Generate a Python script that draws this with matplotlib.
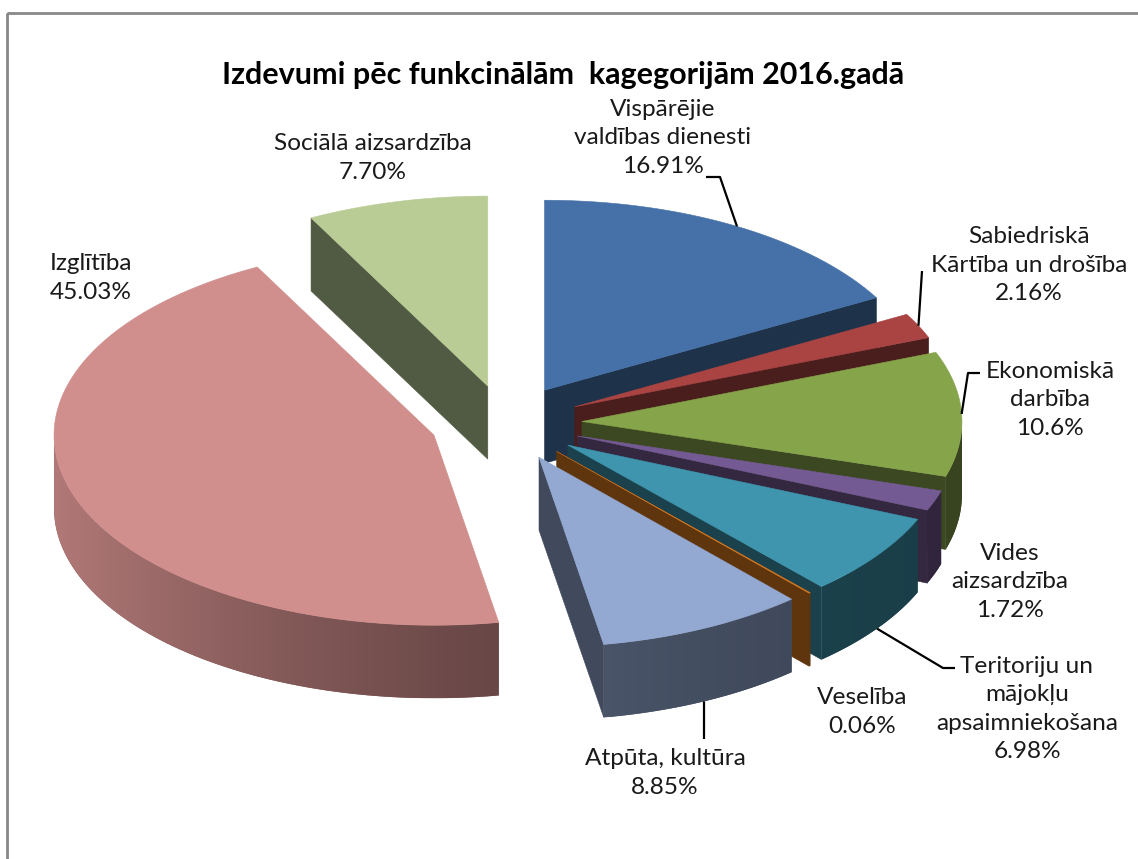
import numpy as np
import matplotlib
import matplotlib.pyplot as plt
from matplotlib.patches import Polygon, Rectangle
from matplotlib.colors import to_rgb

matplotlib.use('Agg')

title = "Izdevumi pēc funkcinālām  kagegorijām 2016.gadā"
categories = ["Vispārējie\nvaldības dienesti", "Sabiedriskā\nKārtība un drošība",
              "Ekonomiskā\ndarbība", "Vides\naizsardzība",
              "Teritoriju un\nmājokļu\napsaimniekošana", "Veselība",
              "Atpūta, kultūra", "Izglītība", "Sociālā aizsardzība"]
shares = [16.91, 2.16, 10.6, 1.72, 6.98, 0.06, 8.85, 45.03, 7.70]
pct_labels = ["16.91%", "2.16%", "10.6%", "1.72%", "6.98%", "0.06%",
              "8.85%", "45.03%", "7.70%"]
colors = ["#4571a8", "#a94442", "#86a44a", "#745a92", "#3e95ad",
          "#d9781e", "#93a9d2", "#d08e8c", "#b9cc95"]

# layout (pixels, y down)
W, H = 1138, 859
CX, CY = 506, 423
RX, RY = 380, 190
EXPLODE = 0.2
DEPTH = 73
label_pos = [(663, 138), (1029, 265), (1050, 400), (1010, 582), (1027, 709),
             (862, 712), (665, 773), (91, 278), (373, 158)]
# leader: (start, elbow, anchor on top rim or bottom rim)
leaders = {0: ((706, 177), (720, 177), 'top'),
           1: ((922, 271), (922, 271), 'top'),
           2: ((980, 373), (968, 373), 'top'),
           4: ((955, 668), (943, 668), 'bottom'),
           6: ((704, 739), (704, 739), 'bottom')}

FONT = ['Lato', 'DejaVu Sans']


def shade(c, f):
    return tuple(np.clip(np.array(to_rgb(c)) * f, 0, 1))


def wall_factor(s):
    # s = sin(angle); left side of the pie is lit, right side dark
    s = np.asarray(s, dtype=float)
    return 0.534 - 0.215 * s + 0.101 * s ** 2


fig = plt.figure(figsize=(W / 100, H / 100), dpi=100)
ax = fig.add_axes([0, 0, 1, 1])
ax.set_xlim(0, W)
ax.set_ylim(H, 0)
ax.axis('off')

bounds = np.cumsum([0] + shares) / sum(shares) * 2 * np.pi
slices = []
for i in range(len(shares)):
    a0, a1 = bounds[i], bounds[i + 1]
    mid = (a0 + a1) / 2
    ox = CX + EXPLODE * RX * np.sin(mid)
    oy = CY - EXPLODE * RY * np.cos(mid)
    slices.append((i, a0, a1, mid, ox, oy))

z = 1.0
# back slices first
for i, a0, a1, mid, ox, oy in sorted(slices, key=lambda s: -np.cos(s[3])):
    c = colors[i]
    n = max(2, int(np.degrees(a1 - a0) * 3))
    ts = np.linspace(a0, a1, n)
    rim = [(ox + RX * np.sin(t), oy - RY * np.cos(t)) for t in ts]

    # radial walls
    for ang, p, vis in ((a0, rim[0], np.sin(a0) < -1e-9), (a1, rim[-1], np.sin(a1) > 1e-9)):
        if vis:
            col = shade(c, 0.44)
            ax.add_patch(Polygon([(ox, oy), p, (p[0], p[1] + DEPTH), (ox, oy + DEPTH)],
                                 closed=True, fc=col, ec=col, lw=0.4, zorder=z))
            z += 1

    # outer wall (front half only), shaded left to right
    lo, hi = max(a0, np.pi / 2), min(a1, 3 * np.pi / 2)
    if hi > lo:
        tw = np.linspace(lo, hi, 200)
        top = [(ox + RX * np.sin(t), oy - RY * np.cos(t)) for t in tw]
        bot = [(x, y + DEPTH) for x, y in top[::-1]]
        xs = np.array([p[0] for p in top])
        ys = np.array([p[1] for p in top])
        x0, x1 = xs.min(), xs.max()
        y0, y1 = ys.min(), ys.max() + DEPTH
        cols = np.linspace(x0, x1, 300)
        f = wall_factor((cols - ox) / RX)
        base = Polygon(top + bot, closed=True, fc=shade(c, float(f.mean())),
                       ec='none', zorder=z)
        ax.add_patch(base)
        img = np.array(to_rgb(c))[None, None, :] * f[None, :, None]
        img = np.repeat(np.clip(img, 0, 1), 2, axis=0)
        im = ax.imshow(img, extent=(x0, x1, y1, y0), aspect='auto',
                       interpolation='bilinear', zorder=z + 0.5)
        im.set_clip_path(base)
        z += 1

    # top face
    ax.add_patch(Polygon([(ox, oy)] + rim, closed=True, fc=c, ec=c, lw=0.4, zorder=z))
    z += 1

ax.set_xlim(0, W)
ax.set_ylim(H, 0)

# leader lines
for i, (start, elbow, kind) in leaders.items():
    _, a0, a1, mid, ox, oy = slices[i]
    px = ox + RX * np.sin(mid)
    py = oy - RY * np.cos(mid) + (DEPTH if kind == 'bottom' else 0)
    ax.plot([start[0], elbow[0], px], [start[1], elbow[1], py],
            color='black', lw=1.6, solid_capstyle='butt', zorder=z)

# labels
for i, (x, y) in enumerate(label_pos):
    ax.text(x, y, categories[i] + "\n" + pct_labels[i], ha='center', va='center',
            fontsize=17.6, family=FONT, color='#1a1a1a', linespacing=1.43, zorder=z + 1)

ax.text(563, 75, title, ha='center', va='center', fontsize=22,
        fontweight='bold', family=FONT, color='black', zorder=z + 1)

ax.add_patch(Rectangle((7, 13), 1300, 1000, fill=False, ec='#888888', lw=2, zorder=z + 2))

plt.savefig('out.png', dpi=100)
